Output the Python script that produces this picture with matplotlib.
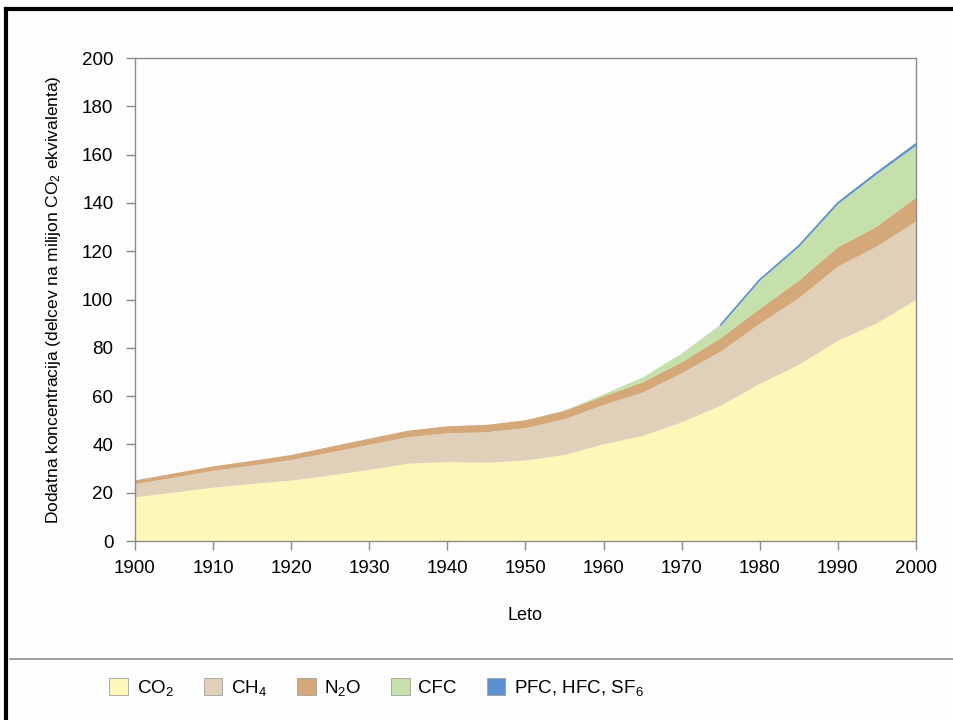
import matplotlib
matplotlib.use('Agg')
import matplotlib.pyplot as plt
from matplotlib.patches import Patch
from matplotlib.lines import Line2D

plt.rcParams['font.family'] = ['Liberation Sans', 'DejaVu Sans']
plt.rcParams['mathtext.fontset'] = 'custom'
plt.rcParams['mathtext.rm'] = 'Liberation Sans'
plt.rcParams['mathtext.it'] = 'Liberation Sans'
plt.rcParams['mathtext.default'] = 'regular'

years = list(range(1900, 2001, 5))

# contribution of each gas (stacked), ppm CO2 equivalent
co2 = [18.1, 20.0, 22.1, 23.6, 25.0, 27.1, 29.4, 32.0, 32.7, 32.4, 33.3,
       35.6, 40.0, 43.5, 49.1, 56.0, 65.0, 72.9, 82.9, 90.1, 99.8]
ch4 = [5.4, 6.2, 6.9, 7.6, 8.5, 9.5, 10.4, 11.0, 11.9, 12.6, 13.4,
       14.8, 16.3, 17.9, 20.3, 22.4, 24.9, 27.6, 30.7, 31.8, 32.4]
n2o = [1.6, 1.8, 1.9, 2.0, 2.1, 2.4, 2.6, 2.7, 2.9, 3.1, 3.3,
       3.5, 3.6, 4.3, 4.6, 5.6, 6.2, 7.3, 8.0, 8.3, 10.0]
cfc = [0, 0, 0, 0, 0, 0, 0, 0, 0, 0, 0,
       0.2, 0.8, 2.0, 3.6, 5.4, 11.9, 14.0, 17.9, 21.7, 21.4]
pfc = [0, 0, 0, 0, 0, 0, 0, 0, 0, 0, 0,
       0, 0, 0, 0, 0.1, 0.2, 0.4, 0.5, 0.6, 0.8]

labels = ['CO$_2$', 'CH$_4$', 'N$_2$O', 'CFC', 'PFC, HFC, SF$_6$']
colors = ['#fdf8b8', '#e0d0ba', '#d4a878', '#c5e0ab', '#5b8fd2']

fig = plt.figure(figsize=(9.54, 7.2), dpi=100)
fig.patch.set_facecolor('#fdfdfd')
ax = fig.add_axes([0.1415, 0.2486, 0.8186, 0.6708])
ax.set_facecolor('#fdfdfd')

ax.stackplot(years, co2, ch4, n2o, cfc, pfc, colors=colors, linewidth=0)
# thin outline on the top layer so it stays visible
top = [a + b + c + d + e for a, b, c, d, e in zip(co2, ch4, n2o, cfc, pfc)]
ax.plot(years[15:], top[15:], color=colors[4], lw=1.2)

ax.set_xlim(1900, 2000)
ax.set_ylim(0, 200)
ax.set_xticks(range(1900, 2001, 10))
ax.set_yticks(range(0, 201, 20))
for s in ax.spines.values():
    s.set_color('#8c8c8c')
    s.set_linewidth(1)
ax.tick_params(colors='#8c8c8c', labelcolor='black', length=6.5, width=1,
               labelsize=13.5, direction='out')
ax.tick_params(axis='x', pad=7)
ax.tick_params(axis='y', pad=9)

ax.set_ylabel('Dodatna koncentracija (delcev na milijon CO$_2$ ekvivalenta)',
              fontsize=12.5, labelpad=14)
ax.set_xlabel('Leto', fontsize=13, labelpad=22)

# separator line and frame around the slide
fig.add_artist(Line2D([0.01, 1.0], [1 - 659 / 720, 1 - 659 / 720],
                      color='#8c8c8c', lw=1.2))
fig.add_artist(Line2D([0.006, 1.0], [1 - 9 / 720, 1 - 9 / 720],
                      color='black', lw=3))
fig.add_artist(Line2D([0.006, 0.006], [0.0, 1 - 9 / 720],
                      color='black', lw=3))

handles = [Patch(facecolor=c, edgecolor='#a0a0a0', lw=0.6) for c in colors]
fig.legend(handles, labels, loc='center left', bbox_to_anchor=(0.097, 1 - 688 / 720),
           ncol=5, frameon=False, fontsize=13.5, handlelength=1.0,
           handleheight=1.0, handletextpad=0.45, columnspacing=1.6)

fig.savefig('out.png', dpi=100, facecolor=fig.get_facecolor())
